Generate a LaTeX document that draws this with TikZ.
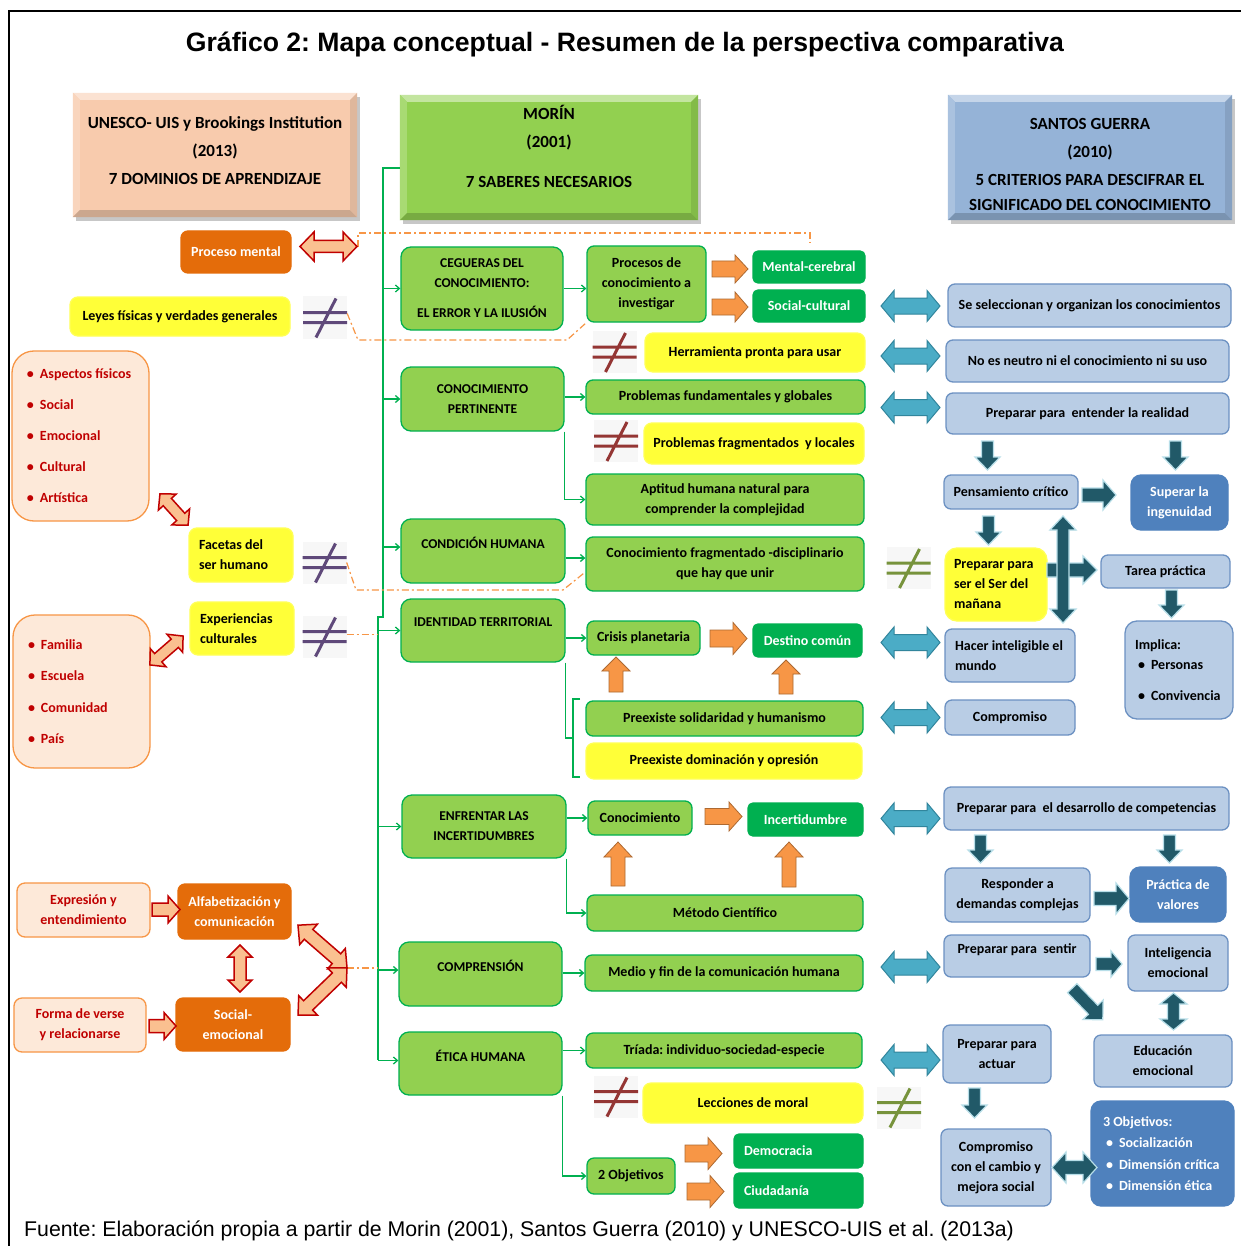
\documentclass[tikz,border=0pt]{standalone}
\usepackage{fontspec}
\setmainfont{Carlito}
\newfontfamily\arialfont{Liberation Sans}
\usetikzlibrary{arrows.meta,calc}
\frenchspacing

\definecolor{cGreen}{HTML}{92D050}
\definecolor{cGreenB}{HTML}{00B050}
\definecolor{cYellow}{HTML}{FFFF38}
\definecolor{cOrange}{HTML}{E46C0A}
\definecolor{cOrangeL}{HTML}{F79646}
\definecolor{cPeach}{HTML}{FDE9D9}
\definecolor{cPeachH}{HTML}{F8CBAD}
\definecolor{cRed}{HTML}{C00000}
\definecolor{cBlueL}{HTML}{B9CDE5}
\definecolor{cBlueB}{HTML}{6C91C2}
\definecolor{cBlueD}{HTML}{4F81BD}
\definecolor{cBlueH}{HTML}{95B3D7}
\definecolor{cTeal}{HTML}{4BACC6}
\definecolor{cTealB}{HTML}{31859C}
\definecolor{cDkTeal}{HTML}{215968}
\definecolor{cGlow}{HTML}{B7DEE8}
\definecolor{cArrowPeach}{HTML}{FAC090}
\definecolor{cPurple}{HTML}{5F497A}
\definecolor{cWine}{HTML}{943634}
\definecolor{cOlive}{HTML}{77933C}

\tikzset{
  basebox/.style={inner sep=2pt, align=center, line width=1.3pt},
  gbox/.style={basebox, draw=cGreenB, fill=cGreen, rounded corners=7pt},
  mbox/.style={gbox, rounded corners=10pt},
  dgbox/.style={basebox, draw=cGreenB, fill=cGreenB, text=white, rounded corners=5pt},
  ybox/.style={basebox, draw=cYellow!85!white, fill=cYellow, rounded corners=8pt},
  obox/.style={basebox, draw=cOrange, fill=cOrange, text=white, rounded corners=7pt},
  pbox/.style={basebox, draw=cOrangeL, fill=cPeach, text=cRed, rounded corners=8pt},
  lbox/.style={pbox, rounded corners=22pt, align=flush left},
  bbox/.style={basebox, draw=cBlueB, fill=cBlueL, rounded corners=7pt},
  dbbox/.style={basebox, draw=cBlueD, fill=cBlueD, text=white, rounded corners=10pt},
  gline/.style={draw=cGreenB, line width=1.3pt},
  garrow/.style={gline, -{Straight Barb[length=4pt,width=7pt]}},
  ddash/.style={draw=cOrangeL, line width=1.2pt, dash pattern=on 7pt off 3pt on 2pt off 3pt},
  oarr/.style={fill=cOrangeL, draw=cOrangeL!70!black, line width=0.8pt},
  rarr/.style={fill=cArrowPeach, draw=cRed, line width=1.5pt, line join=miter},
  tarr/.style={fill=cTeal, draw=cTealB, line width=1pt},
  karr/.style={fill=cDkTeal, draw=cGlow, line width=1.2pt},
  neqbg/.style={fill=gray!6, minimum width=44pt, minimum height=42pt, inner sep=0pt},
}

% box from its corners: [extra]{style}{x1}{y1}{x2}{y2}{name}
\newcommand{\bx}[7][]{\node[#2,minimum width={#5pt-#3pt},minimum height={#6pt-#4pt},#1] (#7) at ({(#3+#5)/2},{(#4+#6)/2})}

% bevelled title block: {name}{x1}{y1}{x2}{y2}{colour}
\newcommand{\bevelbox}[6]{%
  \fill[black!22] (#2+3,#3+4) rectangle (#4+3,#5+4);
  \node[fill=#6, minimum width={#4pt-#2pt}, minimum height={#5pt-#3pt}, inner sep=0pt] (#1) at ({(#2+#4)/2},{(#3+#5)/2}) {};
  \fill[#6!55!white] (#1.north west) -- (#1.north east) -- ([shift={(-7,7)}]#1.north east) -- ([shift={(7,7)}]#1.north west) -- cycle;
  \fill[#6!80!white] (#1.north west) -- ([shift={(7,7)}]#1.north west) -- ([shift={(7,-7)}]#1.south west) -- (#1.south west) -- cycle;
  \fill[#6!82!black] (#1.south west) -- ([shift={(7,-7)}]#1.south west) -- ([shift={(-7,-7)}]#1.south east) -- (#1.south east) -- cycle;
  \fill[#6!90!black] (#1.north east) -- (#1.south east) -- ([shift={(-7,-7)}]#1.south east) -- ([shift={(-7,7)}]#1.north east) -- cycle;
}

% block arrow: {style}{cx}{cy}{angle}{length}{head width}{shaft width}{head length}
\newcommand{\sarr}[8]{%
  \draw[#1, shift={(#2,#3)}, rotate=#4] (-#5/2,-#7/2) -- (#5/2-#8,-#7/2) -- (#5/2-#8,-#6/2) -- (#5/2,0) -- (#5/2-#8,#6/2) -- (#5/2-#8,#7/2) -- (-#5/2,#7/2) -- cycle;}
\newcommand{\darr}[8]{%
  \draw[#1, shift={(#2,#3)}, rotate=#4] (-#5/2,0) -- (-#5/2+#8,-#6/2) -- (-#5/2+#8,-#7/2) -- (#5/2-#8,-#7/2) -- (#5/2-#8,-#6/2) -- (#5/2,0) -- (#5/2-#8,#6/2) -- (#5/2-#8,#7/2) -- (-#5/2+#8,#7/2) -- (-#5/2+#8,#6/2) -- cycle;}

% not-equal sign: {name}{cx}{cy}{colour}
\newcommand{\neqsign}[4]{%
  \node[neqbg] (#1) at (#2,#3) {};
  \draw[#4, line width=3pt] ([shift={(-22,-5)}]#1.center) -- ++(44,0)
    ([shift={(-22,5)}]#1.center) -- ++(44,0)
    ([shift={(11,-19)}]#1.center) -- ([shift={(-9,20)}]#1.center);}

\newcommand{\lbul}{\makebox[13pt][l]{\textbullet}}

\begin{document}
\begin{tikzpicture}[x=1pt,y=-1pt,font=\bfseries\fontsize{14}{20}\selectfont]
\useasboundingbox (0,0) rectangle (1241,1246);
\fill[white] (0,0) rectangle (1241,1246);
\draw[line width=1.5pt] (9,1246) -- (9,11) -- (1241,11);

% ---------- title ----------
\node[font=\arialfont\bfseries\fontsize{26.6}{30}\selectfont] (title) at (625,45)
  {Gráfico 2: Mapa conceptual - Resumen de la perspectiva comparativa};

% ---------- heading blocks ----------
\bevelbox{unesco}{73}{93}{357}{217}{cPeachH}
\node[font=\bfseries\fontsize{17}{28}\selectfont, align=center] (unescoT) at (215,151)
  {UNESCO- UIS y Brookings Institution\\(2013)\\7 DOMINIOS DE APRENDIZAJE};
\bevelbox{morin}{400}{95}{698}{220}{cGreen}
\node[font=\bfseries\fontsize{17}{28}\selectfont, align=center] (morinT) at (549,146)
  {MORÍN\\(2001)\\[12pt]7 SABERES NECESARIOS};
\bevelbox{santos}{948}{95}{1232}{220}{cBlueH}
\node[font=\bfseries\fontsize{17}{28}\selectfont, align=center] (santosT) at (1090,164)
  {SANTOS GUERRA\\(2010)\\5 CRITERIOS PARA DESCIFRAR EL\\[-3pt]SIGNIFICADO DEL CONOCIMIENTO};

% ---------- dash-dot links ----------
\coordinate (d1a) at (358,247);
\draw[ddash] (d1a) -- (358,233) -- (810,233) -- (810,243);

% ---------- not-equal signs ----------
\neqsign{neA}{325}{317.5}{cPurple}
\neqsign{neB}{324.5}{562.5}{cPurple}
\neqsign{neC}{324.5}{636.5}{cPurple}
\neqsign{neD}{614.5}{352}{cWine}
\neqsign{neE}{616}{441}{cWine}
\neqsign{neF}{616}{1096.5}{cWine}
\neqsign{neG}{908.5}{568}{cOlive}
\neqsign{neH}{899}{1107.5}{cOlive}

% ---------- Morin: seven knowledges ----------
\begin{scope}[font=\bfseries\fontsize{13.5}{20}\selectfont]
\bx{mbox}{401}{247}{563}{330}{ceg}{CEGUERAS DEL\\CONOCIMIENTO:\\[10pt]EL ERROR Y LA ILUSIÓN};
\bx{mbox}{401}{367}{564}{431}{cp}{CONOCIMIENTO\\PERTINENTE};
\bx{mbox}{401}{519}{565}{583}{ch}{CONDICIÓN HUMANA\\[-4pt]};
\bx{mbox}{401}{599}{565}{662}{idt}{IDENTIDAD TERRITORIAL\\[-4pt]};
\bx{mbox}{402}{795}{566}{858}{enf}{ENFRENTAR LAS\\INCERTIDUMBRES};
\bx{mbox}{399}{942}{562}{1006}{comp}{COMPRENSIÓN\\[-4pt]};
\bx{mbox}{399}{1032}{562}{1095}{etic}{ÉTICA HUMANA\\[-4pt]};
\end{scope}

\bx{gbox}{587}{246}{706}{322}{proc}{Procesos de\\conocimiento a\\investigar};
\bx{dgbox}{753}{251}{865}{283}{mc}{Mental-cerebral};
\bx{dgbox}{753}{290}{865}{322}{scul}{Social-cultural};
\bx{ybox}{645}{333}{865}{372}{herr}{Herramienta pronta para usar};
\bx{gbox}{586}{380}{865}{414}{pfg}{Problemas fundamentales y globales};
\bx{ybox}{644}{423}{864}{464}{pfl}{Problemas fragmentados\ \ y locales};
\bx{gbox}{586}{474}{864}{525}{apt}{Aptitud humana natural para\\comprender la complejidad};
\bx{gbox}{586}{537}{864}{591}{cfd}{Conocimiento fragmentado -disciplinario\\que hay que unir};
\bx{gbox}{587}{621}{700}{655}{cris}{Crisis planetaria};
\bx{dgbox}{753}{624}{862}{657}{dest}{Destino común};
\bx{gbox}{586}{701}{863}{736}{psol}{Preexiste solidaridad y humanismo};
\bx{ybox}{586}{743}{862}{779}{pdom}{Preexiste dominación y opresión};
\bx{gbox}{588}{801}{692}{835}{conoc}{Conocimiento};
\bx{dgbox}{748}{803}{863}{836}{incert}{Incertidumbre};
\bx{gbox}{587}{895}{863}{931}{met}{Método Científico};
\bx{gbox}{585}{955}{863}{991}{medio}{Medio y fin de la comunicación humana};
\bx{gbox}{586}{1033}{862}{1068}{tri}{Tríada: individuo-sociedad-especie};
\bx{ybox}{643}{1083}{863}{1123}{lecc}{Lecciones de moral};
\bx{gbox}{587}{1158}{675}{1194}{obj2}{2 Objetivos};
\bx[align=flush left, text width=109pt, inner xsep=10pt]{dgbox}{734}{1134}{863}{1168}{demo}{Democracia};
\bx[align=flush left, text width=109pt, inner xsep=8pt]{dgbox}{734}{1173}{863}{1208}{ciud}{Ciudadanía};

% ---------- spine and branches ----------
\coordinate (sp0) at (400,168);
\coordinate (sp1) at (383,168);
\coordinate (sp2) at (383,617);
\coordinate (sp3) at (378,617);
\coordinate (sp4) at (378,1060);
\draw[gline] (sp0) -- (sp1) -- (sp2) -- (sp3) -- (sp4);
\draw[garrow] (sp1 |- ceg.west) -- (ceg.west);
\draw[garrow] (sp1 |- cp.west) -- (cp.west);
\draw[garrow] ([yshift=4pt]sp1 |- ch.west) -- ([yshift=4pt]ch.west);
\draw[garrow] (sp3 |- idt.west) -- (idt.west);
\draw[garrow] (sp3 |- enf.west) -- (enf.west);
\draw[garrow] ([yshift=4pt]sp3 |- comp.west) -- ([yshift=4pt]comp.west);
\draw[garrow] ([yshift=3pt]sp3 |- etic.west) -- ([yshift=3pt]etic.west);

\draw[garrow] (ceg.east) -- (ceg.east -| proc.west);
\draw[garrow] (cp.east |- pfg.west) -- (pfg.west);
\draw[garrow] (cp.south east) |- (apt.west);
\draw[garrow] ([yshift=-7pt]ch.east) -- ([yshift=-7pt]ch.east -| cfd.west);
\draw[garrow] (idt.east |- cris.west) -- (cris.west);
\coordinate (brk) at (573,738);
\coordinate (brt) at (580,699);
\coordinate (brb) at (580,777);
\draw[gline] (idt.south east) |- (brk);
\draw[gline] (brt) -| (brk) |- (brb);
\draw[garrow] (enf.east |- conoc.west) -- (conoc.west);
\draw[garrow] (enf.south east) |- (met.west);
\draw[garrow] (comp.east |- medio.west) -- (medio.west);
\draw[garrow] (etic.east |- tri.west) -- (tri.west);
\draw[garrow] (etic.south east) |- (obj2.west);

% ---------- UNESCO side ----------
\bx{obox}{181}{231}{291}{273}{pmen}{Proceso mental};
\bx{ybox}{70}{297}{290}{336}{leyes}{Leyes físicas y verdades generales};
\bx[text width=107pt, inner xsep=15pt, font=\bfseries\fontsize{14}{31}\selectfont]{lbox}{13}{351}{148}{521}{asp}
  {\lbul Aspectos físicos\\\lbul Social\\\lbul Emocional\\\lbul Cultural\\\lbul Artística};
\bx[align=flush left, text width=84pt, inner xsep=10pt]{ybox}{189}{528}{293}{582}{fac}{Facetas del\\ser humano};
\bx[align=flush left, text width=84pt, inner xsep=10pt]{ybox}{190}{602}{294}{655}{exper}{Experiencias\\culturales};
\bx[text width=107pt, inner xsep=15pt, font=\bfseries\fontsize{14}{31.3}\selectfont]{lbox}{13}{615}{150}{768}{fam}
  {\lbul Familia\\\lbul Escuela\\\lbul Comunidad\\\lbul País};
\bx{pbox}{17}{883}{150}{937}{expr}{Expresión y\\entendimiento};
\bx{obox}{178}{884}{291}{939}{alfa}{Alfabetización y\\comunicación};
\bx{pbox}{14}{998}{146}{1052}{forma}{Forma de verse\\y relacionarse};
\bx{obox}{176}{998}{290}{1051}{socem}{Social-\\emocional};

% ---------- Santos Guerra side ----------
\bx{bbox}{948}{284}{1231}{327}{sel}{Se seleccionan y organizan los conocimientos};
\bx{bbox}{946}{340}{1229}{382}{neut}{No es neutro ni el conocimiento ni su uso};
\bx{bbox}{946}{393}{1229}{434}{entr}{Preparar para\ \ entender la realidad};
\bx{bbox}{944}{475}{1078}{509}{pcrit}{Pensamiento crítico};
\bx{dbbox}{1131}{475}{1228}{530}{sing}{Superar la\\ingenuidad};
\bx[align=flush left, text width=84pt, inner xsep=9pt, rounded corners=12pt]{ybox}{945}{548}{1047}{621}{pser}{Preparar para\\ser el Ser del\\mañana};
\bx{bbox}{1101}{555}{1230}{588}{tarea}{Tarea práctica};
\bx[align=flush left, text width=88pt, inner xsep=10pt, rounded corners=12pt]{bbox}{1125}{621}{1233}{719}{impl}
  {Implica:\\\hspace*{3pt}\lbul Personas\\[11pt]\hspace*{3pt}\lbul Convivencia};
\bx[align=flush left, text width=110pt, inner xsep=10pt]{bbox}{945}{629}{1075}{682}{hint}{Hacer inteligible el\\mundo};
\bx{bbox}{945}{700}{1075}{735}{compr}{Compromiso};
\bx{bbox}{944}{787}{1229}{830}{desc}{Preparar para\ \ el desarrollo de competencias};
\bx{bbox}{945}{868}{1090}{922}{resp}{Responder a\\demandas complejas};
\bx{dbbox}{1130}{867}{1226}{922}{prval}{Práctica de\\valores};
\bx{bbox}{944}{935}{1090}{977}{sent}{Preparar para\ \ sentir\\[-6pt]};
\bx{bbox}{1128}{935}{1228}{991}{intel}{Inteligencia\\emocional};
\bx{bbox}{1094}{1035}{1232}{1087}{educ}{Educación\\emocional};
\bx{bbox}{943}{1025}{1051}{1083}{act}{Preparar para\\actuar};
\bx{bbox}{941}{1129}{1051}{1206}{ccamb}{Compromiso\\con el cambio y\\mejora social};
\bx[align=flush left, text width=119pt, inner xsep=12pt, font=\bfseries\fontsize{14}{21.3}\selectfont]{dbbox}{1091}{1101}{1234}{1206}{obj3}
  {3 Objetivos:\\\hspace*{3pt}\lbul Socialización\\\hspace*{3pt}\lbul Dimensión crítica\\\hspace*{3pt}\lbul Dimensión ética};

% ---------- dash-dot links ----------
\coordinate (d2a) at (358,340);
\coordinate (d2b) at (567,340);
\draw[ddash] ([yshift=4pt]neA.east) -- (d2a) -- (d2b) -- (proc.south west);
\coordinate (d3a) at (356,590);
\coordinate (d3b) at (563,590);
\draw[ddash] (neB.east) -- (d3a) -- (d3b) -- ([yshift=-8pt]cfd.west);
\draw[ddash] ([yshift=2pt]neC.east) -- ([yshift=2pt]neC.east -| sp3);
\coordinate (chev) at (347,968);
\draw[ddash] (chev) -- (chev -| sp3);

% ---------- block arrows ----------
% UNESCO side
\darr{rarr}{328.5}{246.5}{0}{57}{29}{12}{14}
\darr{rarr}{174}{509.5}{-48}{42}{24}{11}{11}
\darr{rarr}{166.5}{650.5}{41}{44}{24}{11}{11}
\sarr{rarr}{166}{909.5}{0}{28}{27}{13}{12}
\sarr{rarr}{162.5}{1026}{0}{27}{27}{13}{12}
\darr{rarr}{240}{968.5}{90}{47}{24}{12}{12}
\darr{rarr}{322.5}{946.5}{-41}{65}{27}{13}{14}
\darr{rarr}{322.5}{991.5}{44}{68}{27}{13}{14}

% Morin side
\sarr{oarr}{730}{269}{0}{36}{28}{16}{13}
\sarr{oarr}{730}{307}{0}{36}{30}{16}{13}
\sarr{oarr}{728.5}{638.5}{0}{37}{32}{17}{14}
\sarr{oarr}{723.5}{816.5}{0}{37}{29}{16}{13}
\sarr{oarr}{703.5}{1153.5}{0}{37}{32}{17}{14}
\sarr{oarr}{705.5}{1191.5}{0}{37}{32}{17}{14}
\sarr{oarr}{616}{674.5}{90}{35}{28}{14}{14}
\sarr{oarr}{786}{677}{90}{34}{28}{14}{14}
\sarr{oarr}{618}{864}{90}{44}{28}{14}{15}
\sarr{oarr}{789}{864.5}{90}{45}{28}{14}{15}

% links between the two columns
\foreach \yy in {306,356,407.5,642.5,717.5,818.5,967,1060}{
  \darr{tarr}{910.5}{\yy}{0}{59}{31}{16}{13}
}

% Santos Guerra side
\sarr{karr}{987.5}{455.5}{-90}{29}{25}{12}{13}
\sarr{karr}{1175.5}{455.5}{-90}{29}{25}{12}{13}
\sarr{karr}{1099}{495}{0}{34}{30}{14}{13}
\sarr{karr}{988.5}{530.5}{-90}{29}{25}{12}{13}
\sarr{karr}{1072}{570}{0}{50}{28}{14}{14}
\darr{karr}{1063}{569.5}{90}{107}{26}{12}{14}
\sarr{karr}{1171.5}{604}{-90}{28}{25}{12}{13}
\sarr{karr}{980.5}{849}{-90}{28}{25}{12}{13}
\sarr{karr}{1169.5}{849}{-90}{28}{25}{12}{13}
\sarr{karr}{1111.5}{898.5}{0}{35}{31}{14}{13}
\sarr{karr}{1109}{964}{0}{26}{26}{13}{11}
\sarr{karr}{1087.5}{1004}{-46}{44}{28}{13}{14}
\darr{karr}{1173.5}{1011.5}{90}{37}{27}{12}{11}
\sarr{karr}{974.5}{1103}{-90}{30}{25}{12}{13}
\darr{karr}{1074.5}{1167.5}{0}{45}{31}{14}{14}

% ---------- source line ----------
\node[font=\arialfont\mdseries\fontsize{21.3}{25}\selectfont, anchor=west, inner sep=0pt] (src) at (24,1231)
  {Fuente: Elaboración propia a partir de Morin (2001), Santos Guerra (2010) y UNESCO-UIS et al. (2013a)};
\end{tikzpicture}
\end{document}
